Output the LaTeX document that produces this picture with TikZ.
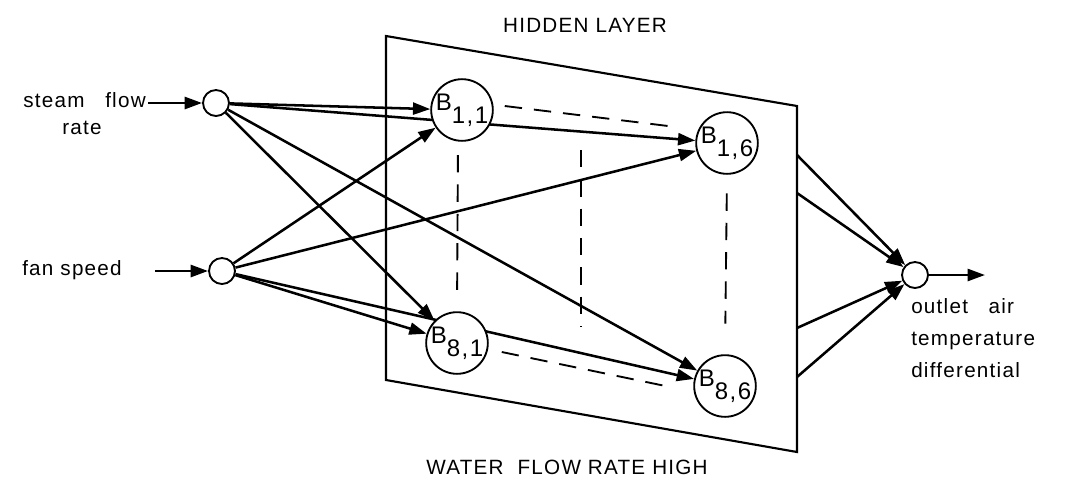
\documentclass[tikz,border=0pt]{standalone}
\usepackage{fontspec}
\setmainfont{Liberation Sans}
\newfontfamily\netfont[LetterSpace=6]{Liberation Sans}
\usetikzlibrary{arrows.meta,positioning,backgrounds}

\begin{document}
\begin{tikzpicture}[
    x=0.75pt, y=-0.75pt,
    font=\netfont\fontsize{15.5}{24}\selectfont,
    unit/.style = {circle, draw, fill=white, line width=1.4pt, minimum size=19.5pt, inner sep=0pt},
    hidden/.style = {circle, draw, fill=white, line width=1.4pt, minimum size=44pt, inner sep=0pt, font=\netfont\fontsize{18}{20}\selectfont},
    arrow/.style = {-{Triangle[length=13pt,width=9pt]}, line width=1.9pt},
    guide/.style = {dash pattern=on 13pt off 9pt, line width=1.4pt},
    txt/.style = {inner sep=0pt}
]
    \useasboundingbox (0,0) rectangle (1072,483);

    % Input layer
    \node [unit] (steam) at (216,103) {};
    \node [unit] (fan) at (222,271) {};
    \node [txt, anchor=east] (steamtxt) at (146,100) {steam\quad flow};
    \node [txt] (ratetxt) at (82,128) {rate};
    \node [txt] (fantxt) at (72,270) {fan speed};
    \coordinate (steamin) at (148,103);
    \coordinate (fanin) at (155,271);

    % Hidden layer
    \node [hidden] (b11) at (462,110) {B\raisebox{-10pt}{1,1}};
    \node [hidden] (b16) at (727,143) {B\raisebox{-10pt}{1,6}};
    \node [hidden] (b81) at (457,343) {B\raisebox{-10pt}{8,1}};
    \node [hidden] (b86) at (725,386) {B\raisebox{-10pt}{8,6}};
    \node [txt] (hiddentxt) at (585,25) {HIDDEN LAYER};
    \node [txt] (watertxt) at (567,467) {WATER~ FLOW RATE HIGH};
    \coordinate (midtop) at (581,150);
    \coordinate (midbot) at (581,327);

    % Output layer
    \node [unit] (out) at (915,275) {};
    \node [txt, align=left, anchor=north west] (outtxt) at (911,298) {outlet\quad air\\temperature\\differential};
    \coordinate (outend) at (985,275);
    \coordinate (e1) at (797,155);
    \coordinate (e2) at (797,193);
    \coordinate (e3) at (797,328);
    \coordinate (e4) at (797,377);

    \begin{scope}[on background layer]
        % Plane
        \draw [line width=1.6pt] (386,36) -- (797,106) -- (797,452) -- (386,380) -- cycle;

        % Guides
        \draw [guide] ([shift={(11,-4)}]b11.east) -- ([shift={(-19,-16)}]b16.west);
        \draw [guide] ([shift={(13,9)}]b81.east) -- ([shift={(-23,1)}]b86.west);
        \draw [guide, shorten <=10pt, shorten >=15pt] ([xshift=-3pt]b11.south) -- (b81.north);
        \draw [guide, shorten <=14pt, shorten >=23pt] (b16.south) -- (b86.north);
        \draw [guide] (midtop) -- (midbot);

        % Connections
        \draw [arrow] (steam) -- (b11);
        \draw [arrow] (steam) -- (b16);
        \draw [arrow] (steam) -- (b81);
        \draw [arrow] (steam) -- (b86);
        \draw [arrow] (fan) -- (b11);
        \draw [arrow] (fan) -- (b16);
        \draw [arrow] (fan) -- (b81);
        \draw [arrow] (fan) -- (b86);
    \end{scope}

    \draw [arrow] (steamin) -- (steam);
    \draw [arrow] (fanin) -- (fan);
    \draw [arrow] (e1) -- (out);
    \draw [arrow] (e2) -- (out);
    \draw [arrow] (e3) -- (out);
    \draw [arrow] (e4) -- (out);
    \draw [arrow] (out) -- (outend);
\end{tikzpicture}
\end{document}
